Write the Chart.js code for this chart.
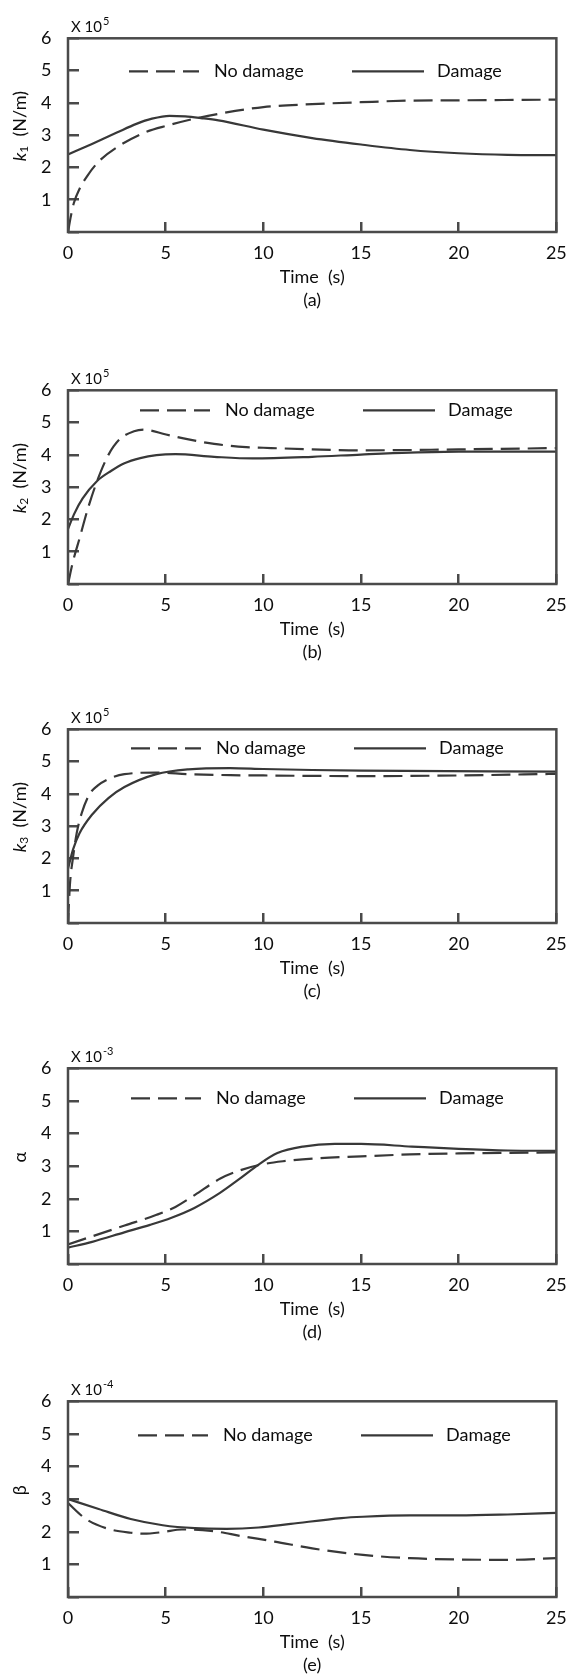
<!DOCTYPE html>
<html>
<head>
<meta charset="utf-8">
<script src="https://cdn.jsdelivr.net/npm/chart.js@4.4.1/dist/chart.umd.min.js"></script>
<style>
html,body{margin:0;padding:0;background:#fff;}
body{width:587px;height:1677px;overflow:hidden;position:relative;}
canvas{position:absolute;left:0;}
</style>
</head>
<body>
<canvas id="pa"></canvas>
<canvas id="pb"></canvas>
<canvas id="pc"></canvas>
<canvas id="pd"></canvas>
<canvas id="pe"></canvas>
<script>
// ---------------- data ----------------
const xTicks = [0, 5, 10, 15, 20, 25];
const yTicks = [1, 2, 3, 4, 5, 6];
const seriesNames = ['No damage', 'Damage'];

// (a) k1, x 10^5 N/m
const k1NoDamageT = [0, 0.15, 0.3, 0.6, 1, 1.6, 2.7, 4, 5.1, 6.4, 7.7, 10, 12.5, 15, 17.5, 20, 25];
const k1NoDamageV = [0, 0.5, 0.9, 1.35, 1.75, 2.2, 2.7, 3.1, 3.3, 3.5, 3.66, 3.87, 3.96, 4.02, 4.07, 4.08, 4.1];
const k1DamageT = [0, 1.2, 2.5, 3.5, 4.3, 5.2, 6.0, 6.8, 7.7, 10, 12.5, 15, 17.5, 20, 22.5, 25];
const k1DamageV = [2.4, 2.72, 3.08, 3.35, 3.51, 3.6, 3.58, 3.53, 3.46, 3.17, 2.91, 2.71, 2.54, 2.44, 2.39, 2.38];

// (b) k2, x 10^5 N/m
const k2NoDamageT = [0, 0.26, 0.59, 1.0, 1.49, 2.07, 2.64, 3.38, 3.87, 5.02, 6.17, 7.48, 9.12, 10, 12.5, 15, 20, 25];
const k2NoDamageV = [0, 0.71, 1.41, 2.3, 3.19, 4.0, 4.48, 4.73, 4.78, 4.63, 4.48, 4.34, 4.24, 4.22, 4.17, 4.14, 4.17, 4.21];
const k2DamageT = [0, 0.3, 0.75, 1.49, 2.2, 2.89, 3.7, 4.53, 5.5, 7.48, 9.45, 12.5, 15, 17.5, 20, 25];
const k2DamageV = [1.7, 2.15, 2.65, 3.19, 3.5, 3.74, 3.9, 3.99, 4.02, 3.94, 3.89, 3.94, 4.01, 4.07, 4.1, 4.1];

// (c) k3, x 10^5 N/m
const k3NoDamageT = [0, 0.1, 0.25, 0.45, 0.7, 1.08, 1.5, 2.07, 2.89, 4.5, 6.2, 8.3, 10, 15, 20, 25];
const k3NoDamageV = [0, 1.2, 2.0, 2.8, 3.4, 3.97, 4.25, 4.46, 4.61, 4.66, 4.61, 4.58, 4.57, 4.55, 4.57, 4.62];
const k3DamageT = [0, 0.26, 0.59, 1.25, 2.07, 2.89, 4.53, 6.17, 8.3, 10, 12.5, 15, 25];
const k3DamageV = [1.68, 2.28, 2.78, 3.37, 3.87, 4.21, 4.61, 4.76, 4.8, 4.77, 4.74, 4.72, 4.69];

// (d) alpha, x 10^-3
const alphaNoDamageT = [0, 1.2, 2.9, 4.5, 5.5, 6.5, 7.8, 8.8, 9.9, 11, 12.7, 15, 17.5, 20, 25];
const alphaNoDamageV = [0.6, 0.84, 1.18, 1.5, 1.75, 2.12, 2.62, 2.87, 3.05, 3.15, 3.24, 3.3, 3.36, 3.39, 3.42];
const alphaDamageT = [0, 1.24, 2.88, 4.2, 5.3, 6.47, 7.78, 8.76, 9.74, 10.72, 12.03, 13.66, 15, 17.6, 20, 22.5, 25];
const alphaDamageV = [0.5, 0.68, 0.97, 1.2, 1.42, 1.72, 2.18, 2.6, 3.04, 3.4, 3.6, 3.68, 3.68, 3.6, 3.53, 3.48, 3.47];

// (e) beta, x 10^-4
const betaNoDamageT = [0, 0.92, 2.06, 3.21, 3.87, 4.85, 5.83, 7.31, 8.94, 10.58, 12.5, 15.1, 17.5, 20, 22.5, 25];
const betaNoDamageV = [2.88, 2.39, 2.09, 1.97, 1.94, 1.99, 2.07, 2.03, 1.86, 1.7, 1.49, 1.29, 1.19, 1.15, 1.14, 1.19];
const betaDamageT = [0, 1.57, 3.21, 4.85, 6.49, 8.12, 9.76, 11.4, 14, 15.1, 17.5, 20, 22.5, 25];
const betaDamageV = [3.0, 2.7, 2.39, 2.2, 2.11, 2.09, 2.13, 2.24, 2.42, 2.46, 2.5, 2.5, 2.53, 2.58];

const xTitle = 'Time  (s)';
const captions = ['(a)', '(b)', '(c)', '(d)', '(e)'];
const exponents = ['5', '5', '5', '-3', '-4'];

// ---------------- layout / style ----------------
const FONT = 'Lato';
const FS = 18;
const TXT = '#0d0d0d';
const BOX = '#4a4a4a';
const LINE = '#383838';

const panels = [
  {id:'pa', top:31,   h:201, right:576, yTitle:[['k','i'],['1','s'],['  (N/m)','n']], noT:k1NoDamageT, noV:k1NoDamageV, daT:k1DamageT, daV:k1DamageV, cap:captions[0], exp:exponents[0], legX:61, legY:33},
  {id:'pb', top:383,  h:201, right:576, yTitle:[['k','i'],['2','s'],['  (N/m)','n']], noT:k2NoDamageT, noV:k2NoDamageV, daT:k2DamageT, daV:k2DamageV, cap:captions[1], exp:exponents[1], legX:72, legY:20},
  {id:'pc', top:722,  h:201, right:576, yTitle:[['k','i'],['3','s'],['  (N/m)','n']], noT:k3NoDamageT, noV:k3NoDamageV, daT:k3DamageT, daV:k3DamageV, cap:captions[2], exp:exponents[2], legX:63, legY:19},
  {id:'pd', top:1061, h:203, right:578, yTitle:[['α','n']], noT:alphaNoDamageT, noV:alphaNoDamageV, daT:alphaDamageT, daV:alphaDamageV, cap:captions[3], exp:exponents[3], legX:63, legY:30},
  {id:'pe', top:1394, h:203, right:576, yTitle:[['β','n']], noT:betaNoDamageT, noV:betaNoDamageV, daT:betaDamageT, daV:betaDamageV, cap:captions[4], exp:exponents[4], legX:70, legY:34}
];

const PAD_TOP = 31;
const X_AXIS_H = 82;

const decor = {
  id: 'decor',
  afterDraw(chart, args, o) {
    const {ctx, chartArea: a} = chart;
    ctx.save();
    // frame
    ctx.setLineDash([]);
    ctx.strokeStyle = BOX;
    ctx.lineWidth = 2.5;
    ctx.strokeRect(a.left, a.top, a.right - a.left, a.bottom - a.top);
    // exponent label
    ctx.fillStyle = TXT;
    ctx.textAlign = 'left';
    ctx.textBaseline = 'alphabetic';
    ctx.font = `15px ${FONT}`;
    const base = 'X 10';
    ctx.fillText(base, a.left + 3, a.top - 6);
    const bw = ctx.measureText(base).width;
    ctx.font = `11px ${FONT}`;
    ctx.fillText(o.exp, a.left + 3 + bw + 1, a.top - 13);
    // y-axis title (rotated, rich text)
    const fonts = {i: `italic ${FS}px ${FONT}`, s: `12px ${FONT}`, n: `${FS}px ${FONT}`};
    let total = 0;
    o.yTitle.forEach(([t, f]) => { ctx.font = fonts[f]; total += ctx.measureText(t).width; });
    ctx.translate(20.5, (a.top + a.bottom) / 2 - 9);
    ctx.rotate(-Math.PI / 2);
    ctx.textBaseline = 'middle';
    let x = -total / 2;
    o.yTitle.forEach(([t, f]) => {
      ctx.font = fonts[f];
      ctx.fillText(t, x, f === 's' ? 4 : 0);
      x += ctx.measureText(t).width;
    });
    ctx.restore();
    // legend
    ctx.save();
    const ly = a.top + o.legY;
    const lx = a.left + o.legX;
    const segs = [[0, 70, 85], [223, 72, 308]];
    chart.data.datasets.forEach((ds, i) => {
      const [s, len, tx] = segs[i];
      ctx.strokeStyle = ds.borderColor;
      ctx.lineWidth = ds.borderWidth;
      ctx.setLineDash(ds.borderDash || []);
      ctx.beginPath();
      ctx.moveTo(lx + s, ly);
      ctx.lineTo(lx + s + len, ly);
      ctx.stroke();
      ctx.setLineDash([]);
      ctx.fillStyle = TXT;
      ctx.font = `${FS}px ${FONT}`;
      ctx.textAlign = 'left';
      ctx.textBaseline = 'middle';
      ctx.fillText(ds.label, lx + tx, ly);
    });
    ctx.restore();
  }
};

function pts(ts, vs) { return ts.map((t, i) => ({x: t, y: vs[i]})); }

panels.forEach(p => {
  const cv = document.getElementById(p.id);
  const H = PAD_TOP + p.h + X_AXIS_H;
  cv.width = 587; cv.height = H;
  cv.style.width = '587px'; cv.style.height = H + 'px';
  cv.style.top = (p.top - PAD_TOP) + 'px';
  new Chart(cv, {
    type: 'line',
    data: {
      datasets: [
        {label: seriesNames[0], data: pts(p.noT, p.noV), borderColor: LINE, borderWidth: 2.2, borderDash: [19, 8], pointRadius: 0, fill: false, cubicInterpolationMode: 'monotone'},
        {label: seriesNames[1], data: pts(p.daT, p.daV), borderColor: LINE, borderWidth: 2.2, pointRadius: 0, fill: false, cubicInterpolationMode: 'monotone'}
      ]
    },
    options: {
      responsive: false,
      devicePixelRatio: 1,
      animation: false,
      events: [],
      layout: {padding: {top: PAD_TOP, left: 0, right: 587 - p.right, bottom: 0}},
      plugins: {legend: {display: false}, tooltip: {enabled: false}, decor: {exp: p.exp, yTitle: p.yTitle, legX: p.legX, legY: p.legY}},
      scales: {
        x: {
          type: 'linear', min: 0, max: 25,
          afterBuildTicks: s => { s.ticks = xTicks.map(v => ({value: v})); },
          afterFit: s => { s.height = X_AXIS_H; },
          border: {display: false},
          grid: {drawOnChartArea: false, drawTicks: true, tickLength: -10, color: BOX, lineWidth: 2.5},
          ticks: {color: TXT, font: {family: FONT, size: FS}, padding: 20.2, maxRotation: 0, autoSkip: false},
          title: {display: true, text: [xTitle, p.cap], color: TXT, font: {family: FONT, size: FS, lineHeight: '23.5px'}, padding: {top: 0, bottom: 1.75}}
        },
        y: {
          type: 'linear', min: 0, max: 6,
          afterBuildTicks: s => { s.ticks = [0].concat(yTicks).map(v => ({value: v})); },
          afterFit: s => { s.width = 68; },
          border: {display: false},
          grid: {drawOnChartArea: false, drawTicks: true, tickLength: -11, color: BOX, lineWidth: 2.5},
          ticks: {color: TXT, font: {family: FONT, size: FS}, padding: 27.5, autoSkip: false, callback: v => (v === 0 ? '' : String(v))}
        }
      }
    },
    plugins: [decor]
  });
});
</script>
</body>
</html>
